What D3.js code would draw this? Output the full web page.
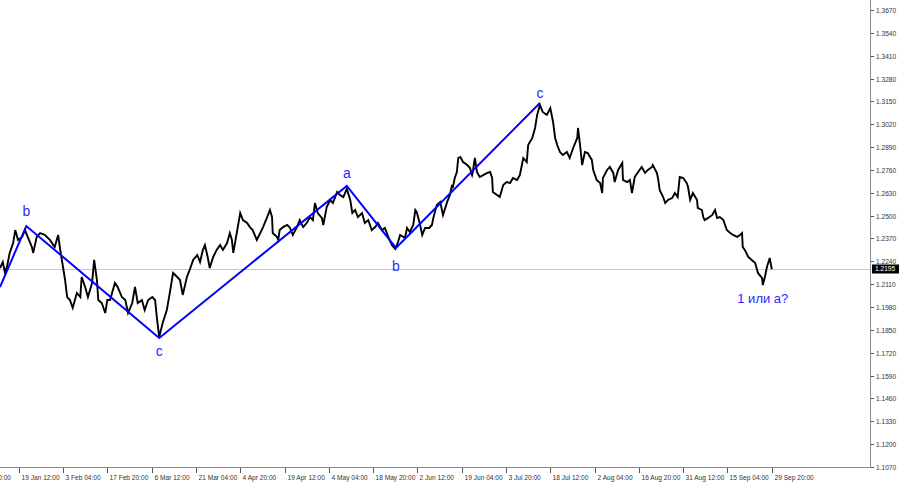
<!DOCTYPE html>
<html>
<head>
<meta charset="utf-8">
<script src="https://cdn.jsdelivr.net/npm/d3@7"></script>
<style>
  html, body { margin: 0; padding: 0; background: #fff; }
  svg { display: block; }
  text { font-family: "Liberation Sans", Arial, sans-serif; }
</style>
</head>
<body>
<svg id="chart" width="900" height="485"></svg>
<script>
// ---- DATA (H4 bar index counted from "4 Jan 20:00", price) ----
const priceBars = [37,41,44,47,51,56,59,63,69,73,77,83,85,90,95,102,109,116,121,124,128,131,134,138,142,148,153,155,160,164,170,173,177,179,184,189,192,196,203,207,213,218,222,228,232,236,242,246,251,257,261,264,267,272,278,283,287,293,297,301,307,311,316,322,326,330,333,337,340,345,350,355,359,365,369,372,374,379,384,388,394,398,402,408,413,417,423,427,430,431,437,439,441,446,452,456,460,466,470,475,480,485,489,492,496,502,504,509,514,518,524,528,533,538,543,546,550,554,560,564,569,574,579,583,589,593,598,603,608,612,615,622,625,629,634,637,639,644,647,651,657,661,663,668,673,677,683,687,690,691,694,697,699,702,706,712,716,719,720,723,726,730,735,741,745,748,749,755,759,764,769,774,778,784,788,793,798,800,806,810,813,817,821,827,832,836,839,842,846,850,856,860,865,871,872,875,878,882,886,892,894,899,904,907,908,914,918,923,925,930,936,937,943,947,950,954,959,964,969,973,979,980,986,988,990,995,998,1002,1008,1012,1016,1019,1024,1029,1031,1034,1038,1044,1045,1051,1053,1055,1060,1066,1070,1073,1077,1082,1087,1092,1096,1102,1106,1109,1110,1113,1118,1123,1128,1132,1138,1139,1142,1145,1149,1152];
const priceValues = [1.2202,1.2236,1.2179,1.2208,1.2288,1.2344,1.2418,1.2362,1.2379,1.2418,1.2379,1.2322,1.2288,1.2379,1.2401,1.2390,1.2362,1.2322,1.2390,1.2305,1.2208,1.2134,1.2037,1.2020,1.1975,1.2060,1.2037,1.2151,1.2094,1.2037,1.2117,1.2248,1.2134,1.2020,1.2003,1.1946,1.2020,1.2020,1.2117,1.2094,1.2037,1.2020,1.1946,1.2003,1.2094,1.2003,1.2020,1.1963,1.2020,1.2037,1.2020,1.1906,1.1810,1.1889,1.1963,1.2077,1.2174,1.2151,1.2134,1.2049,1.2151,1.2191,1.2248,1.2276,1.2236,1.2305,1.2333,1.2265,1.2202,1.2265,1.2305,1.2333,1.2305,1.2344,1.2401,1.2362,1.2288,1.2401,1.2515,1.2475,1.2458,1.2435,1.2418,1.2362,1.2401,1.2435,1.2492,1.2532,1.2492,1.2401,1.2379,1.2362,1.2418,1.2435,1.2447,1.2430,1.2390,1.2435,1.2475,1.2435,1.2458,1.2492,1.2475,1.2572,1.2515,1.2487,1.2447,1.2549,1.2589,1.2572,1.2635,1.2618,1.2606,1.2652,1.2589,1.2515,1.2532,1.2492,1.2515,1.2458,1.2475,1.2418,1.2435,1.2458,1.2418,1.2430,1.2379,1.2333,1.2310,1.2350,1.2390,1.2373,1.2430,1.2407,1.2447,1.2532,1.2521,1.2447,1.2390,1.2430,1.2430,1.2447,1.2487,1.2561,1.2578,1.2504,1.2578,1.2618,1.2674,1.2657,1.2714,1.2748,1.2828,1.2834,1.2805,1.2788,1.2771,1.2731,1.2748,1.2828,1.2748,1.2720,1.2731,1.2743,1.2748,1.2714,1.2635,1.2618,1.2606,1.2674,1.2691,1.2686,1.2714,1.2703,1.2731,1.2828,1.2805,1.2902,1.2942,1.2999,1.3073,1.3130,1.3090,1.3073,1.3112,1.3033,1.2942,1.2902,1.2862,1.2845,1.2862,1.2828,1.2885,1.2942,1.2999,1.2902,1.2788,1.2862,1.2856,1.2817,1.2760,1.2703,1.2686,1.2629,1.2714,1.2760,1.2777,1.2743,1.2691,1.2760,1.2800,1.2703,1.2691,1.2703,1.2629,1.2720,1.2748,1.2777,1.2743,1.2760,1.2777,1.2788,1.2743,1.2703,1.2646,1.2606,1.2572,1.2589,1.2600,1.2629,1.2606,1.2720,1.2714,1.2686,1.2663,1.2589,1.2629,1.2589,1.2544,1.2532,1.2492,1.2475,1.2487,1.2504,1.2532,1.2487,1.2492,1.2475,1.2418,1.2401,1.2390,1.2379,1.2390,1.2401,1.2322,1.2305,1.2265,1.2248,1.2231,1.2174,1.2145,1.2105,1.2151,1.2208,1.2259,1.2195];

const waveBars   = [37, 75, 267, 538, 609, 817];
const wavePrices = [1.2094, 1.2441, 1.1804, 1.2669, 1.2316, 1.3141];
const waveLabels = ["", "b", "c", "a", "b", "c"];
const endLabel = "1 или a?";

const lastPrice = 1.2195;
const yTicks = [1.3670,1.3540,1.3410,1.3280,1.3150,1.3020,1.2890,1.2760,1.2630,1.2500,1.2370,1.2240,1.2110,1.1980,1.1850,1.1720,1.1590,1.1460,1.1330,1.1200,1.1070];
const xTickLabels = ["4 Jan 20:00","19 Jan 12:00","3 Feb 04:00","17 Feb 20:00","6 Mar 12:00","21 Mar 04:00","4 Apr 20:00","19 Apr 12:00","4 May 04:00","18 May 20:00","2 Jun 12:00","19 Jun 04:00","3 Jul 20:00","18 Jul 12:00","2 Aug 04:00","16 Aug 20:00","31 Aug 12:00","15 Sep 04:00","29 Sep 20:00"];
const barsPerTick = 64;

// ---- LAYOUT ----
const plotRight = 870, plotBottom = 467;
const labelDy = [0, -10, 18.5, -8, 23, -5];   // baseline offset of each wave label from its vertex
const svg = d3.select("#chart");

const x = d3.scaleLinear()
  .domain([0, barsPerTick * (xTickLabels.length - 1)])
  .range([-25.6, 771.8]);
const y = d3.scaleLinear().domain([1.1070, 1.3670]).range([467, 10]);

svg.append("defs").append("clipPath").attr("id", "plot")
  .append("rect").attr("x", 0).attr("y", 0).attr("width", plotRight).attr("height", plotBottom);

// current price line
const ly = Math.round(y(lastPrice));
svg.append("line")
  .attr("x1", 0).attr("x2", plotRight)
  .attr("y1", ly + 0.5).attr("y2", ly + 0.5)
  .attr("stroke", "#c8c8c8").attr("stroke-width", 1);

const g = svg.append("g").attr("clip-path", "url(#plot)");

// price path
const pts = priceBars.map((b, i) => [b, priceValues[i]]);
g.append("path")
  .datum(pts)
  .attr("fill", "none")
  .attr("stroke", "#000")
  .attr("stroke-width", 1.9)
  .attr("stroke-linejoin", "miter")
  .attr("d", d3.line().x(d => x(d[0])).y(d => y(d[1])));

// wave lines
const wpts = waveBars.map((b, i) => [b, wavePrices[i]]);
g.append("path")
  .datum(wpts)
  .attr("fill", "none")
  .attr("stroke", "#0000ff")
  .attr("stroke-width", 2)
  .attr("d", d3.line().x(d => x(d[0])).y(d => y(d[1])));

// wave labels
waveLabels.forEach((lab, i) => {
  if (!lab) return;
  svg.append("text")
    .attr("x", x(waveBars[i]))
    .attr("y", y(wavePrices[i]) + labelDy[i])
    .attr("text-anchor", "middle")
    .attr("font-size", 14)
    .attr("fill", "#2a2aff")
    .text(lab);
});
svg.append("text")
  .attr("x", x(priceBars[priceBars.length - 1]) - 9)
  .attr("y", y(d3.min(priceValues.slice(-5))) + 18)
  .attr("text-anchor", "middle")
  .attr("font-size", 13)
  .attr("fill", "#2a2aff")
  .text(endLabel);

// right axis
svg.append("line")
  .attr("x1", plotRight + 0.5).attr("x2", plotRight + 0.5)
  .attr("y1", 0).attr("y2", plotBottom + 0.5)
  .attr("stroke", "#8a8a8a");
const ya = svg.append("g");
yTicks.forEach(t => {
  const yy = Math.round(y(t)) + 0.5;
  ya.append("line").attr("x1", plotRight + 1).attr("x2", plotRight + 4)
    .attr("y1", yy).attr("y2", yy).attr("stroke", "#555");
  ya.append("text").attr("x", plotRight + 6).attr("y", yy + 2.4)
    .attr("font-size", 6.6).attr("fill", "#333").text(t.toFixed(4));
});

// bottom axis
svg.append("line")
  .attr("x1", 0).attr("x2", plotRight + 1)
  .attr("y1", plotBottom + 0.5).attr("y2", plotBottom + 0.5)
  .attr("stroke", "#8a8a8a");
const xa = svg.append("g");
xTickLabels.forEach((lab, i) => {
  const xx = Math.round(x(i * barsPerTick)) + 0.5;
  xa.append("line").attr("x1", xx).attr("x2", xx)
    .attr("y1", plotBottom + 1).attr("y2", plotBottom + 6).attr("stroke", "#555");
  xa.append("text").attr("x", xx + 2).attr("y", plotBottom + 12.5)
    .attr("font-size", 6.6).attr("fill", "#333").text(lab);
});

// last price tag
svg.append("rect").attr("x", plotRight + 2).attr("y", ly - 4.5)
  .attr("width", 27).attr("height", 9).attr("fill", "#000");
svg.append("text").attr("x", plotRight + 5).attr("y", ly + 2.4)
  .attr("font-size", 6.6).attr("fill", "#fff").text(lastPrice.toFixed(4));
</script>
</body>
</html>
